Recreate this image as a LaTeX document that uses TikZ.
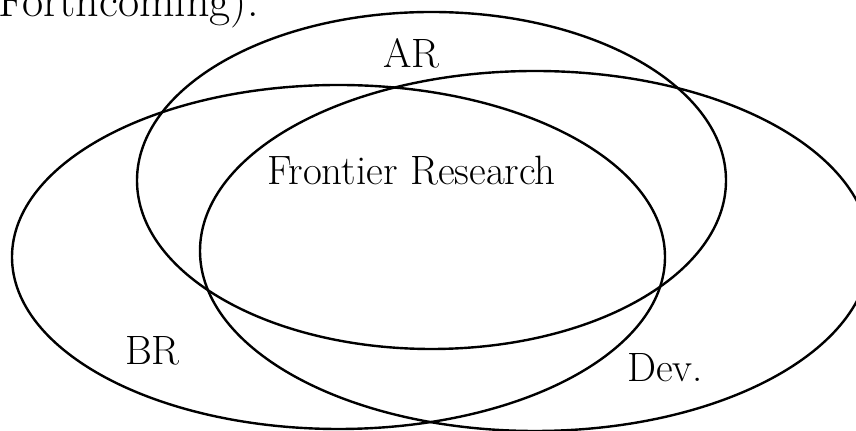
\documentclass[tikz,border=0pt]{standalone}
\usepackage{tikz}

\begin{document}
\begin{tikzpicture}[
  x=0.5pt, y=-0.5pt,
  every node/.style={font=\fontsize{20.5}{24}\selectfont, inner sep=0pt},
  set/.style={draw=black, line width=1.2pt},
]
\useasboundingbox (0,0) rectangle (856,431);

% the three sets
\draw[set] (431.5,180.5) ellipse [x radius=294.5, y radius=168.5];
\draw[set] (338.5,257)   ellipse [x radius=326.5, y radius=172];
\draw[set] (535,251)     ellipse [x radius=335,   y radius=180];

% labels
\node[anchor=base east, font=\fontsize{23}{27}\selectfont] (cap) at (259,17) {Forthcoming).};
\node[anchor=base]      (ar)  at (411.5,68)  {AR};
\node[anchor=base]      (fr)  at (411.5,185) {Frontier Research};
\node[anchor=base]      (br)  at (152.5,365) {BR};
\node[anchor=base]      (dev) at (665,382)   {Dev.};
\end{tikzpicture}
\end{document}
